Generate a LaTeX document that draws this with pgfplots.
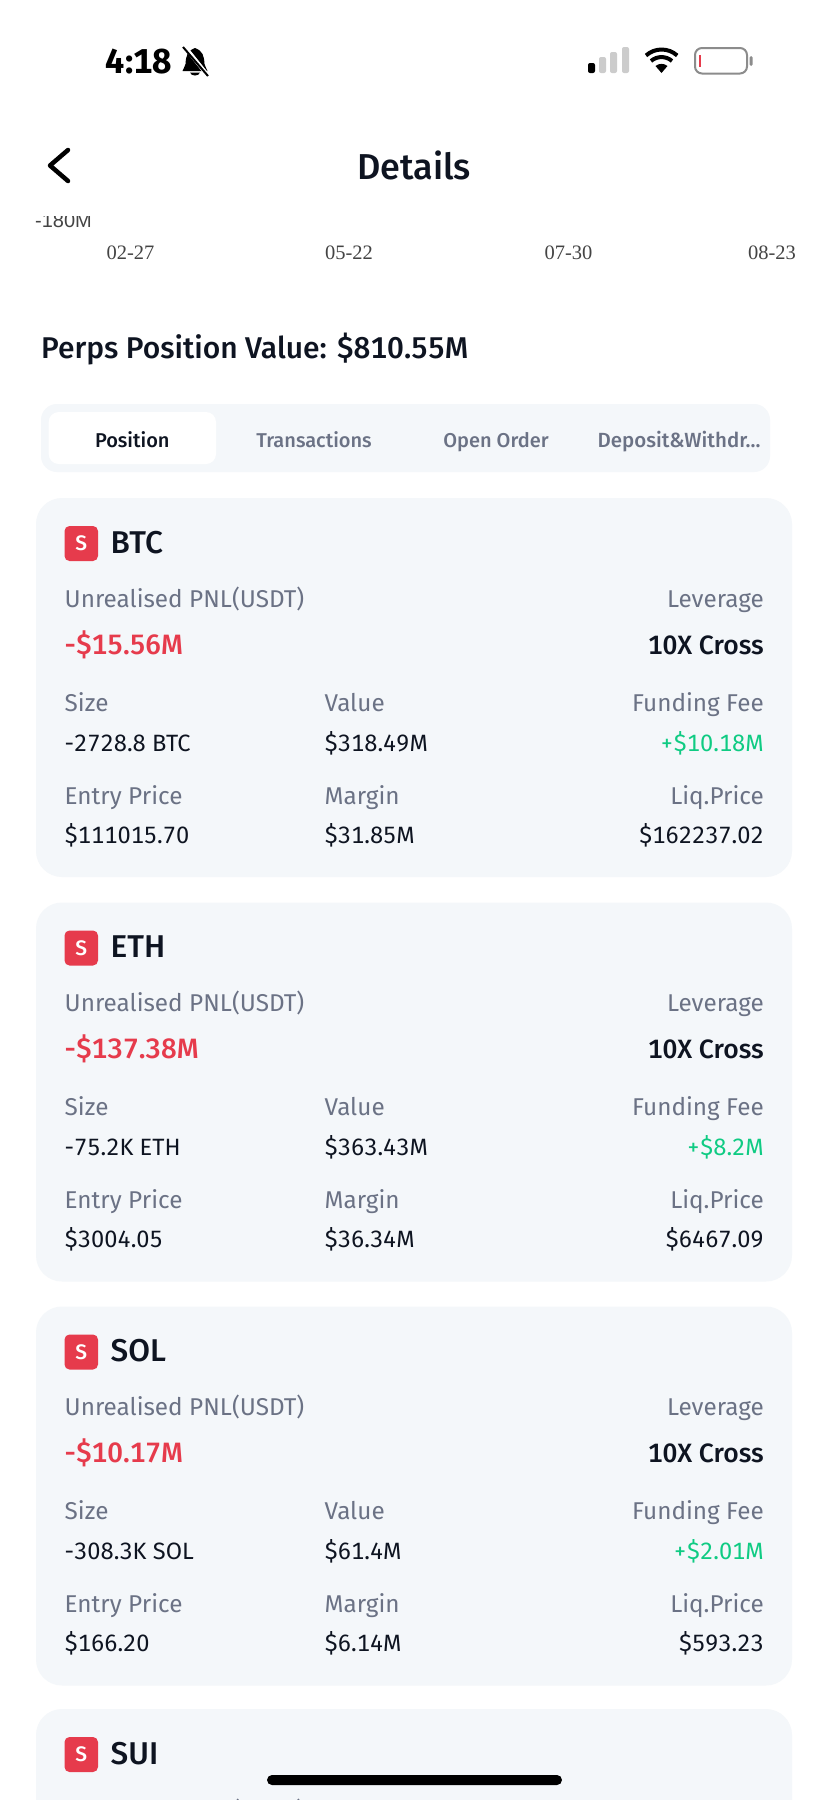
\documentclass[border=0pt]{standalone}
\usepackage{pgfplots}
\pgfplotsset{compat=1.18}
\usepackage{fontspec}
\setmainfont[Numbers={Lining,Monospaced}]{Fira Sans}
\newfontfamily\med[Numbers={Lining,Monospaced}]{Fira Sans Medium}
\newfontfamily\serifl{Liberation Serif}
\newfontfamily\sansl{Liberation Sans}
\definecolor{ink}{HTML}{0E1421}
\definecolor{mut}{HTML}{6B7285}
\definecolor{redc}{HTML}{E63B4C}
\definecolor{grn}{HTML}{0FCB83}
\definecolor{pane}{HTML}{F4F7FA}
\definecolor{axt}{HTML}{444444}
\newcommand{\sz}[1]{\fontsize{#1}{#1}\selectfont}
\tikzset{L/.style={anchor=base west,inner sep=0pt},R/.style={anchor=base east,inner sep=0pt},C/.style={anchor=base,inner sep=0pt}}
\newcommand{\cardhead}[1]{%
  \fill[redc,rounded corners=5pt] (64.5,28) rectangle (98,63);
  \node[C,text=white] at (81.2,52.5) {\med\sz{21}S};
  \node[L,text=ink] at (110.5,55) {\med\sz{31.5}#1};
  \node[L,text=mut] at (64.5,109) {\sz{24.3}Unrealised PNL(USDT)};
  \node[R,text=mut] at (764,109) {\sz{24.3}Leverage};
}
\newcommand{\card}[9]{%
  \begin{scope}[shift={(0,#1)}]
  \fill[pane,rounded corners=26pt] (36,0) rectangle (792,379);
  \cardhead{#2}
  \node[L,text=redc] at (64.5,156) {\med\sz{28}#3};
  \node[R,text=ink] at (764,156) {\med\sz{26.5}10X Cross};
  \node[L,text=mut] at (64.5,213) {\sz{24.3}Size};
  \node[L,text=mut] at (324.5,213) {\sz{24.3}Value};
  \node[R,text=mut] at (764,213) {\sz{24.3}Funding Fee};
  \node[L,text=ink] at (64.5,253) {\sz{23.6}#4};
  \node[L,text=ink] at (324.5,253) {\sz{23.6}#5};
  \node[R,text=grn] at (764,253) {\sz{23.6}#6};
  \node[L,text=mut] at (64.5,306) {\sz{24.3}Entry Price};
  \node[L,text=mut] at (324.5,306) {\sz{24.3}Margin};
  \node[R,text=mut] at (764,306) {\sz{24.3}Liq.Price};
  \node[L,text=ink] at (64.5,345) {\sz{23.6}#7};
  \node[L,text=ink] at (324.5,345) {\sz{23.6}#8};
  \node[R,text=ink] at (764,345) {\sz{23.6}#9};
  \end{scope}
}
\begin{document}
\begin{tikzpicture}[x=1pt,y=-1pt]
\useasboundingbox (0,0) rectangle (828,1800);
\fill[white] (0,0) rectangle (828,1800);
% remnant of the chart
\begin{axis}[at={(96pt,-220.7pt)},anchor=south west,scale only axis,width=732pt,height=40pt,
  xmin=96,xmax=828,ymin=-180,ymax=0,
  axis line style={draw=none},major tick length=0pt,
  xtick={130.5,349,568.5,772},xticklabels={02-27,05-22,07-30,08-23},
  ytick={-180},yticklabels={-180M},
  xticklabel style={font=\serifl\sz{20.5},text=axt,inner sep=0pt,yshift=-25pt},
  yticklabel style={font=\sansl\sz{20},text=axt,inner sep=0pt,xshift=-4pt},
  clip=false]
\addplot[draw=none] coordinates {(130.5,-180) (772,-180)};
\end{axis}
\fill[white] (0,0) rectangle (828,215.5);
% status bar
\node[L,text=black] at (105.5,73) {\sz{34.5}\bfseries 4:18};
\fill[black] (195,48) .. controls (187,51) and (186,56) .. (185.5,64) .. controls (185,67) and (183,69) .. (182.5,71) -- (207.5,71) .. controls (207,69) and (205,67) .. (204.5,64) .. controls (204,56) and (203,51) .. (195,48) -- cycle;
\fill[black] (190,72.5) .. controls (191,76.5) and (199,76.5) .. (200,72.5) -- cycle;
\draw[white,line width=4pt] (185,47) -- (209,77);
\draw[black,line width=2pt] (183,47) -- (208,76);
\fill[black,rounded corners=2pt] (588,63) rectangle (595,73);
\fill[black!20,rounded corners=2pt] (599,57) rectangle (606,73);
\fill[black!20,rounded corners=2pt] (610,52) rectangle (617,73);
\fill[black!20,rounded corners=2pt] (622,47) rectangle (629,73);
\begin{scope}[shift={(661.5,73)},yscale=-1]
\fill[black] (0,0) -- (-6,7) arc[start angle=130,end angle=50,radius=9.3] -- cycle;
\draw[black,line width=4pt] (-10.5,12) arc[start angle=131,end angle=49,radius=16];
\draw[black,line width=4pt] (-15.5,17.5) arc[start angle=132,end angle=48,radius=23.3];
\end{scope}
\draw[black!45,line width=2pt,rounded corners=7pt] (695,48) rectangle (747,73.5);
\fill[redc] (698.5,55) rectangle (701,67);
\fill[black!45,rounded corners=1.5pt] (749.5,56) rectangle (752.5,66);
% navigation
\draw[black,line width=4.5pt,line cap=round,line join=round] (68,150) -- (50,165.5) -- (68,181);
\node[C,text=ink] at (414,179) {\med\sz{36}Details};
\node[L,text=ink] at (41,358) {\med\sz{30}Perps Position Value: \$810.55M};
% tabs
\fill[pane,rounded corners=16pt] (41,404) rectangle (770,472);
\fill[white,rounded corners=10pt] (48.7,412) rectangle (216,464);
\node[C,text=ink] at (132.3,447) {\med\sz{20}Position};
\node[C,text=mut] at (314,447) {\med\sz{20}Transactions};
\node[C,text=mut] at (496,447) {\med\sz{20}Open Order};
\node[C,text=mut] at (679,447) {\med\sz{20.5}Deposit\&Withdr...};
% cards
\card{498}{BTC}{-\$15.56M}{-2728.8 BTC}{\$318.49M}{+\$10.18M}{\$111015.70}{\$31.85M}{\$162237.02}
\card{902.5}{ETH}{-\$137.38M}{-75.2K ETH}{\$363.43M}{+\$8.2M}{\$3004.05}{\$36.34M}{\$6467.09}
\card{1306.5}{SOL}{-\$10.17M}{-308.3K SOL}{\$61.4M}{+\$2.01M}{\$166.20}{\$6.14M}{\$593.23}
\begin{scope}[shift={(0,1709)}]
\fill[pane,rounded corners=26pt] (36,0) rectangle (792,379);
\fill[redc,rounded corners=5pt] (64.5,28) rectangle (98,63);
\node[C,text=white] at (81.2,52.5) {\med\sz{21}S};
\node[L,text=ink] at (110.5,55) {\med\sz{31.5}SUI};
\node[L,text=mut] at (64.5,110) {\sz{24.3}Unrealised PNL(USDT)};
\end{scope}
\fill[black,rounded corners=5pt] (267,1775) rectangle (562,1785);
\end{tikzpicture}
\end{document}
